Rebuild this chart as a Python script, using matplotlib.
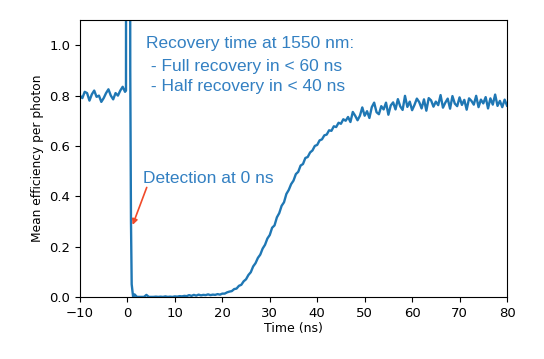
import numpy as np
import matplotlib.pyplot as plt

# detector efficiency before the detection event (-10 .. -0.5 ns, 0.5 ns steps)
t_pre = np.arange(-10, 0, 0.5)
eff_pre = [0.800, 0.790, 0.815, 0.810, 0.780, 0.805, 0.820, 0.795, 0.800, 0.775,
           0.790, 0.810, 0.825, 0.800, 0.785, 0.810, 0.800, 0.820, 0.835, 0.815]

# the detection click itself (goes off the top of the axes)
t_click = [-0.3, -0.25, 0.5, 0.6, 0.75, 0.9, 1.2]
eff_click = [0.82, 3.0, 3.0, 0.9, 0.3, 0.05, 0.0]

# recovery after the click (1.5 .. 80 ns, 0.5 ns steps)
t_post = np.arange(1.5, 80.01, 0.5)
eff_post = [0.010, 0.0, 0.0, 0.0, 0.0, 0.008, 0.0, 0.0, 0.0, 0.001,
            0.0, 0.001, 0.0, 0.002, 0.0, 0.001, 0.0, 0.002, 0.001, 0.003,
            0.002, 0.004, 0.003, 0.007, 0.004, 0.008, 0.005, 0.009, 0.006, 0.008,
            0.007, 0.010, 0.007, 0.009, 0.008, 0.011, 0.009, 0.013, 0.013, 0.018,
            0.021, 0.023, 0.031, 0.033, 0.044, 0.048, 0.062, 0.070, 0.087, 0.098,
            0.121, 0.134, 0.155, 0.168, 0.192, 0.207, 0.232, 0.246, 0.275, 0.284,
            0.316, 0.333, 0.362, 0.376, 0.409, 0.425, 0.448, 0.462, 0.488, 0.497,
            0.522, 0.528, 0.552, 0.556, 0.574, 0.582, 0.600, 0.604, 0.622, 0.626,
            0.642, 0.645, 0.662, 0.660, 0.678, 0.675, 0.692, 0.688, 0.706, 0.700,
            0.715, 0.695, 0.735, 0.720, 0.702, 0.720, 0.753, 0.720, 0.738, 0.711,
            0.754, 0.772, 0.734, 0.726, 0.758, 0.745, 0.772, 0.724, 0.761, 0.773,
            0.745, 0.786, 0.757, 0.743, 0.799, 0.755, 0.776, 0.742, 0.763, 0.788,
            0.774, 0.749, 0.785, 0.740, 0.790, 0.781, 0.756, 0.776, 0.762, 0.802,
            0.752, 0.772, 0.788, 0.748, 0.798, 0.768, 0.758, 0.793, 0.763, 0.783,
            0.744, 0.789, 0.779, 0.764, 0.799, 0.754, 0.784, 0.769, 0.794, 0.749,
            0.789, 0.764, 0.804, 0.759, 0.779, 0.754, 0.784, 0.760]

t = np.concatenate([t_pre, t_click, t_post])
eff = np.concatenate([eff_pre, eff_click, eff_post])

text_blue = "#3380c2"

fig = plt.figure(figsize=(5.44, 3.59), dpi=100)
ax = fig.add_axes([0.147, 0.173, 0.785, 0.771])
ax.plot(t, eff, color="#1f77b4", linewidth=1.7)

ax.set_xlim(-10, 80)
ax.set_ylim(0, 1.1)
ax.set_xticks(range(-10, 81, 10))
ax.set_yticks([0.0, 0.2, 0.4, 0.6, 0.8, 1.0])
ax.tick_params(labelsize=9.5)
ax.set_xlabel("Time (ns)", fontsize=9, labelpad=2)
ax.set_ylabel("Mean efficiency per photon", fontsize=8.8)

font = ["Liberation Sans", "DejaVu Sans"]
ax.text(3.9, 1.009, "Recovery time at 1550 nm:", color=text_blue,
        fontsize=12.5, family=font, va="center")
ax.text(3.9, 0.917, " - Full recovery in < 60 ns", color=text_blue,
        fontsize=12.5, family=font, va="center")
ax.text(3.9, 0.835, " - Half recovery in < 40 ns", color=text_blue,
        fontsize=12.5, family=font, va="center")

ax.text(3.2, 0.471, "Detection at 0 ns", color=text_blue,
        fontsize=12.5, family=font, va="center")
ax.annotate("", xy=(1.1, 0.286), xytext=(4.07, 0.435),
            arrowprops=dict(arrowstyle="-|>", color="#f04a2a", lw=1.2,
                            mutation_scale=8, shrinkA=0, shrinkB=0))

plt.savefig("out.png", dpi=100)
